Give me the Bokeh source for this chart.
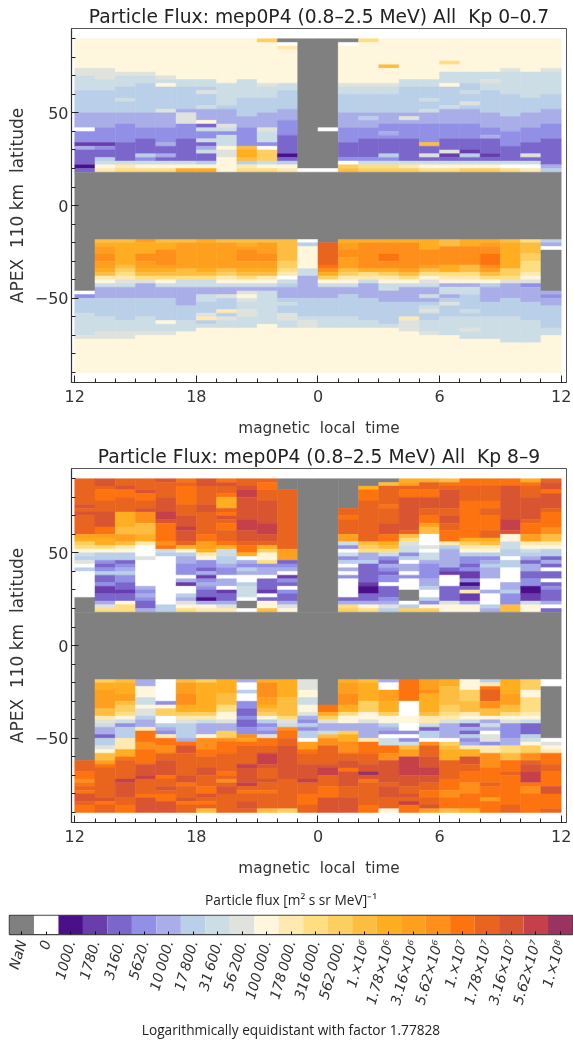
import re
from bokeh.embed import file_html
from bokeh.resources import INLINE
from bokeh.plotting import figure
from bokeh.layouts import column
from bokeh.models import FixedTicker, Range1d, Title

# level codes: '.'=NaN, '0'=zero, a..u = the 21 legend steps from 1000 to 1e8
level_codes = ".0abcdefghijklmnopqrstu"
level_labels = ["NaN", "0", "1000.", "1780.", "3160.", "5620.", "10\u2009000.", "17\u2009800.", "31\u2009600.",
                "56\u2009200.", "100\u2009000.", "178\u2009000.", "316\u2009000.", "562\u2009000.",
                "1.\u00d710\u2076", "1.78\u00d710\u2076", "3.16\u00d710\u2076", "5.62\u00d710\u2076",
                "1.\u00d710\u2077", "1.78\u00d710\u2077", "3.16\u00d710\u2077", "5.62\u00d710\u2077", "1.\u00d710\u2078"]
level_colors = ["#808080", "#ffffff", "#4b0f8a", "#6a3dad", "#7b66cc", "#9290e6", "#a9ade8", "#bacfe8",
                "#cddde5", "#e0e2dd", "#fef6dd", "#feeab0", "#fede80", "#fdcf60", "#fdbd40", "#feae20",
                "#fea01e", "#fd8f1a", "#fd7310", "#e8641f", "#d95532", "#c5404a", "#9b3360"]

mlt_hours = list(range(24))          # columns, starting at 12 MLT
lat_north_top = 90                   # north rows run from +90 to +18 in 2 degree bins
lat_south_top = -18                  # south rows run from -18 to -90 in 2 degree bins
lat_bin = 2

north_kp0 = [
 "i8 h2 g4 f6 e4 0 d3 b e c4 a c",
 "i8 h3 g3 f6 e4 d4 b d c2 f g i j",
 "i9 h g3 f3 g f3 e3 d5 c5 g j k",
 "i9 h g2 f8 e4 d3 c4 f d g i k",
 "i10 h g i f6 h e4 d4 e c2 e c g i k",
 "i11 g2 f6 e h3 d4 c6 g i n",
 "i11 g2 f h f3 g e3 i c g d2 g c e g c2 f i n",
 "i12 g6 f e4 h g d g g2 i h2 i4",
 "i11 g5 f5 e3 d5 m n2 m f j k",
 "l i11 h g3 f4 e4 h g3 d 0 l3 g i k",
 ". 0 j i9 g2 f5 e3 d4 c5 a c f i j",
 ".35 0",
 ".24 0 .10 0",
 ". 0 i10 h g2 f5 e4 d4 c4 d 0 l m",
 "k i11 h g2 f5 e f e2 d3 c5 d g k l",
 "i7 m i4 h g2 f5 e3 d2 e d c4 f d g k l",
 "i11 g2 f7 e h e d4 c6 g j l",
 "i11 g2 f3 g f2 g e3 d5 m c2 h c g i k",
 "i6 k i2 g3 i f5 g e4 d4 c3 h b c g i k",
 "i9 g3 f2 g f2 h f e4 d4 c3 b f c g i l",
 "i9 g2 h g2 f6 e4 d2 e c4 b c g i l",
 "i8 h g6 f6 e4 d4 c4 g 0 k",
 "i9 g7 f4 e4 d4 c3 h c g 0 j",
 "i8 h g6 f4 e4 d4 c7 e f",
]
south_kp0 = [
 ".14 0 d f4 g6 h i9",
 "m n o2 p2 o2 n m j i g e3 f5 g4 h2 i9",
 "m n6 m l k j h g e3 f6 g3 h2 i9",
 "o n3 p2 o2 n m k h e4 f5 g4 h i10",
 "m n2 p4 o n m k i g e3 f6 i g2 h i10",
 "m o7 m2 k g2 e5 f4 g3 i11",
 "n o7 n m k g2 e2 g2 f3 h j f g i12",
 "m o7 m l j i g e2 h f3 j f h g2 i12",
 "m n o p3 o2 n m k i g e h i h g2 h2 g3 i12",
 "m o3 p2 o2 n m j i g e g9 i13",
 "m6 l2 k j 0 g f e3 f g f2 h2 g2 i12",
 "0 f i6 g2 e6 f5 g h2 i12",
 ". r6 q p n l i g e3 f5 g3 i12",
 "n o2 p2 o3 m l j i g e2 f6 g3 i12",
 "n p7 n k j g e4 f6 g2 i12",
 "n p3 q2 p2 n l j i g2 e3 f6 g i12",
 "n p7 o m k i g e4 f4 j h3 i11",
 "n3 p4 o m k i h g e2 g e f g h f2 g3 h i10",
 "m2 p5 n2 k j i e g2 e f h f3 g5 i10",
 "n2 p5 m2 k j i e g2 f4 g f g3 h g2 i9",
 "n o p2 q3 p o m k i f e4 f4 g6 i9",
 "m n7 l l k h e4 f5 g7 i8",
 "k m3 l2 k3 j i h d e4 f5 g6 i8",
 "f e 0 .11 e d e2 f6 g2 i10",
]
north_kp8 = [
 "r7 s r s r5 o n l k i g f h 0 f 0x7 .4",
 "s2 r q3 r3 s4 q2 o n2 k i f2 d c d f c2 d b2 c2 e h k",
 "r2 s q2 r4 n4 m2 o2 m j i f2 c d e f d2 c2 b c2 i k2",
 "r3 s q2 r2 s p3 m3 n2 j 0x3 h 0x7 e d e d c c e",
 "s r4 s4 t2 s q5 p q g f 0x13 f2",
 "q r q5 r3 s3 t s3 r n i f e e d3 0 e b 0x2 f e h i k",
 "s2 r5 s2 r6 q2 o2 n j i d d c e b d e d c2 a e i j",
 "q s r2 q n3 r q s r q2 r3 q n g2 f2 e d2 0 e2 0 b c2 e h j",
 "r2 s t2 s6 t3 s3 r q2 n 0 e d f e 0x2 f g3 0 .2 0",
 "r q2 r3 s6 t3 s2 r n l i2 k d e2 0 c3 b 0 c i2 m",
 ".3 r16 o3 c d e 0 b d c 0 d c2 e h i",
 ".36",
 ".36",
 ".8 r2 q r4 o2 g d 0 g d f 0 e 0 d 0x5 c e k l",
 ".2 n q3 r11 m l k e2 f c5 b a2 c2 e i k",
 ". m r5 q r4 s3 q2 n m k g d c e d c d2 0 c3 d e h f",
 "n o r q2 s9 r m k h g2 d f 0 e2 0 d 0x3 .3 0 f l",
 "n r2 q2 s3 r2 q2 o m2 0x3 h 0 g2 e d4 e2 f 0x2 f d i l",
 "m q r s5 r2 s2 r2 q3 j f e5 c b 0x3 c c3 h i2",
 "q2 r4 q10 n l j i f d2 c d b2 d a c j b2 e i2",
 "q2 r4 q2 r2 q4 r2 n m j i f d e f e3 0x3 e 0x3 f e",
 "q2 s9 t3 s i2 g2 f2 0 f2 0x4 e2 f d2 d m2",
 "n q r3 s6 r q3 o2 j i g f e c e2 c2 d2 a2 b2 g i2",
 "r s2 q s4 r q4 p2 m2 j i f2 c e c 0 c2 0 c d c3 e 0 c",
]
south_kp8 = [
 ".22 r3 q2 p q r q s2 r q2",
 "l n2 o5 m2 j h g e2 c f2 h i m2 o q r8 s q r2",
 "m n3 o2 m l2 k i g d f3 j3 n2 q r5 t s4 r2 q2",
 "e2 i3 g2 i h2 f e2 j q3 p2 q4 s3 t r4 q s4",
 "0x6 d i l2 0x2 f e d j q2 p2 r2 s4 q r2 s r q2 s3",
 "m o3 p3 n2 l j h f4 e q s2 r6 s2 q r3 s q r2",
 "l n8 l j g e3 i p3 q2 r3 s2 r3 q2 s r q r m",
 "n4 m3 k2 i2 h e2 l2 p q3 r5 q r p r s2 r5",
 "e 0x2 f 0x2 d2 c2 d c2 d2 p o q r5 t s4 t r q r2 s2 r",
 "n p4 o2 n m l i f d e d h q2 r2 t3 s r3 s r2 q r4 m",
 "n5 m5 k h g p q2 r2 s9 r8 l",
 "h3 i2 g2 i2 h e d f d f2 0 o2 q r3 s4 t r3 q2 q r2",
 ".7 q2 n l h e2 g m p2 r5 s t2 r3 q3 s4",
 "n o3 p3 n2 k i2 e2 l n2 p3 r2 s2 q s4 r3 s4",
 "m n5 l3 i2 h e4 j q3 r3 s2 u s q r6 q2",
 "e 0x2 o3 n3 l i2 f e d 0 g2 q2 p2 s6 r s3 r3 i",
 "q6 0x4 i2 0x2 d 0 d g m o2 t5 s3 r2 s r t q2",
 "o3 p n5 m j2 g c f2 0 p r3 s3 t2 s2 r2 q2 r2 s o",
 "n2 m5 l2 k j h e4 0 l m n3 r5 q3 p2 q3 m",
 "i3 l3 m3 j i g c e c f d e j n2 s2 r2 q3 p3 q4 n",
 "f j q r3 p2 m2 i e g e 0 h2 d j2 p4 q4 r q3 o q3",
 "n4 o3 m2 k i h d4 e2 k2 m2 q3 r q8 r2",
 "l3 i2 k4 j i g c3 f g i l2 p2 r s2 t3 q p2 q5",
 "0x2 .14 0 h i j q3 r2 q4 s2 q4 r",
]

title_kp0 = "Particle Flux: mep0P4 (0.8\u20132.5 MeV) All \u00a0Kp 0\u20130.7"
title_kp8 = "Particle Flux: mep0P4 (0.8\u20132.5 MeV) All \u00a0Kp 8\u20139"
x_label = "magnetic \u00a0local \u00a0time"
y_label = "APEX \u00a0110 km \u00a0latitude"
hour_ticks = [0, 6, 12, 18, 24]
hour_labels = {0: "12", 6: "18", 12: "0", 18: "6", 24: "12"}
lat_ticks = [-50, 0, 50]
lat_minor = [-90, -80, -70, -60, -40, -30, -20, -10, 10, 20, 30, 40, 60, 70, 80, 90]
FONT = "DejaVu Sans"
INK = "#333333"


def expand(col):
    out = []
    for tok in col.split():
        m = re.fullmatch(r"(.)x?(\d*)", tok)
        out.extend(m.group(1) * int(m.group(2) or 1))
    return (out + [out[-1]] * 36)[:36]


def panel(title, north, south, height, top, bottom):
    p = figure(width=573, height=height, output_backend="svg", toolbar_location=None,
               x_range=Range1d(-0.16, 24.26), y_range=Range1d(-95.4, 95.5),
               min_border_left=71, min_border_right=7, min_border_top=top, min_border_bottom=bottom,
               title=title, x_axis_label=x_label, y_axis_label=y_label)
    p.title.align = "center"
    p.title.text_font = FONT
    p.title.text_font_size = "18.7px"
    p.title.text_font_style = "normal"
    p.title.text_color = "#222222"
    p.title.offset = 0
    p.title.standoff = 3
    L, R, T, B, C = [], [], [], [], []
    for h, ncol, scol in zip(mlt_hours, north, south):
        for lat0, col in ((lat_north_top, ncol), (lat_south_top, scol)):
            cells = expand(col)
            k = 0
            while k < len(cells):          # one quad per run of equal cells
                j = k
                while j + 1 < len(cells) and cells[j + 1] == cells[k]:
                    j += 1
                L.append(h); R.append(h + 1)
                T.append(lat0 - k * lat_bin); B.append(lat0 - (j + 1) * lat_bin)
                C.append(level_colors[level_codes.index(cells[k])])
                k = j + 1
    L.append(mlt_hours[0]); R.append(mlt_hours[-1] + 1)
    T.append(lat_north_top - 36 * lat_bin); B.append(lat_south_top); C.append(level_colors[0])
    p.quad(left=L, right=R, top=T, bottom=B, fill_color=C, line_color=C, line_width=0.5)
    p.grid.visible = False
    p.outline_line_color = "#555555"
    p.outline_line_width = 1
    for ax in (p.xaxis[0], p.yaxis[0]):
        ax.major_tick_in = 7
        ax.major_tick_out = 0
        ax.minor_tick_in = 4
        ax.minor_tick_out = 0
        ax.major_tick_line_color = "#222222"
        ax.minor_tick_line_color = "#222222"
        ax.axis_line_color = "#333333"
        ax.axis_line_width = 1.2
        ax.major_label_text_font = FONT
        ax.major_label_text_font_size = "16px"
        ax.major_label_text_color = INK
        ax.axis_label_text_font = FONT
        ax.axis_label_text_font_size = "15.3px"
        ax.axis_label_text_font_style = "normal"
        ax.axis_label_text_color = INK
    p.xaxis[0].ticker = FixedTicker(ticks=hour_ticks, minor_ticks=mlt_hours)
    p.xaxis[0].major_label_overrides = hour_labels
    p.xaxis[0].major_label_standoff = 7
    p.xaxis[0].axis_label_standoff = 14
    p.yaxis[0].ticker = FixedTicker(ticks=lat_ticks, minor_ticks=lat_minor)
    p.yaxis[0].major_label_orientation = "horizontal"
    p.yaxis[0].major_label_standoff = 3
    p.yaxis[0].axis_label_standoff = 5
    p.yaxis[0].axis_label_text_font_size = "17px"
    return p


p1 = panel(title_kp0, north_kp0, south_kp0, 440, 28, 58)
p2 = panel(title_kp8, north_kp8, south_kp8, 440, 28, 58)

n = len(level_labels)
pos = list(range(n))
bar = figure(width=573, height=164, output_backend="svg", toolbar_location=None,
             x_range=Range1d(0, n), y_range=Range1d(0, 1),
             min_border_left=9, min_border_right=1, min_border_top=29, min_border_bottom=106,
             title="Particle flux [m\u00b2 s sr MeV]\u207b\u00b9")
bar.title.align = "center"
bar.title.text_font = "Open Sans"
bar.title.text_font_size = "13.7px"
bar.title.text_font_style = "normal"
bar.title.text_color = "#222222"
bar.title.standoff = 14
bar.quad(left=pos, right=[i + 1 for i in pos], top=1, bottom=0, fill_color=level_colors, line_color=None)
bar.grid.visible = False
bar.yaxis.visible = False
bar.outline_line_color = "#444444"
bar.outline_line_width = 1.5
ax = bar.xaxis[0]
ax.ticker = FixedTicker(ticks=[i + 0.5 for i in pos])
ax.major_label_overrides = {i + 0.5: lab for i, lab in zip(pos, level_labels)}
ax.major_label_orientation = 1.29
ax.major_label_text_font = FONT
ax.major_label_text_font_size = "14px"
ax.major_label_text_font_style = "italic"
ax.major_label_text_color = INK
ax.major_label_standoff = 6
ax.major_tick_in = 3
ax.major_tick_out = 0
ax.minor_tick_in = 0
ax.minor_tick_out = 0
ax.axis_line_color = "#444444"
foot = Title(text="Logarithmically equidistant with factor 1.77828", align="center", standoff=12,
             text_font="Open Sans", text_font_size="13.7px", text_font_style="normal", text_color="#222222")
bar.add_layout(foot, "below")

page = column(column(p1, p2, spacing=0), column(bar), spacing=0,
              styles={"position": "absolute", "left": "0px", "top": "0px", "filter": "blur(0.45px)"})
open("out.html", "w").write(file_html(page, INLINE))
